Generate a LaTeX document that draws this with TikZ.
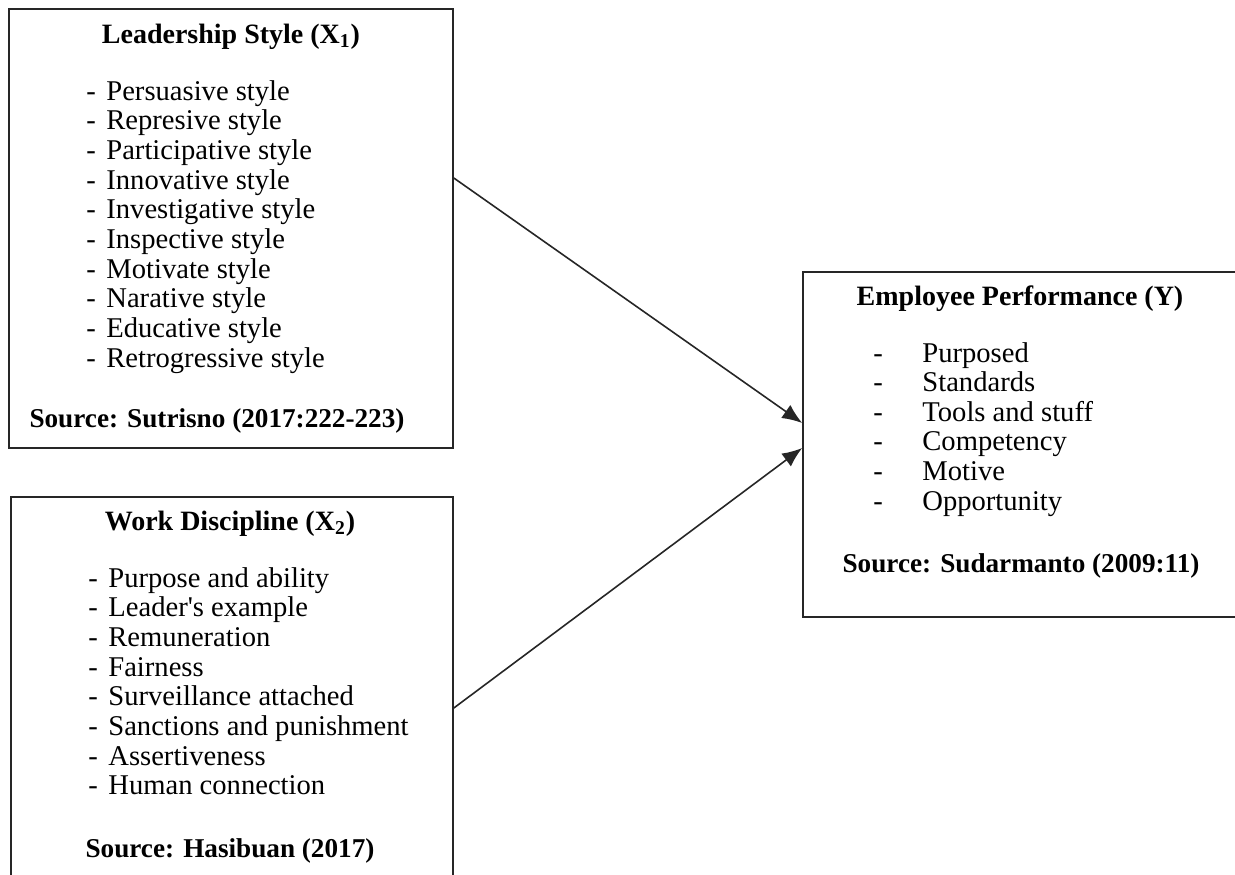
\documentclass[tikz,border=0pt]{standalone}
\usepackage{fontspec}
\setmainfont{Liberation Serif}
\usetikzlibrary{arrows.meta}
\begin{document}
\begin{tikzpicture}[x=0.5pt,y=-0.5pt,
  box/.style={draw=black!85, line width=0.8pt, rectangle, inner sep=0pt},
  ttl/.style={anchor=base, inner sep=0pt, font=\fontsize{14}{15}\selectfont\bfseries},
  src/.style={anchor=base, inner sep=0pt, font=\fontsize{13.6}{15}\selectfont\bfseries},
  item/.style={anchor=base west, inner sep=0pt, font=\fontsize{14.3}{15}\selectfont},
  arr/.style={line width=0.8pt, draw=black!85, -{Latex[length=10pt,width=8pt]}}]
\useasboundingbox (0,0) rectangle (1235,874);
\clip (0,0) rectangle (1235,874);
% boxes
\node[box, minimum width=222pt, minimum height=219.5pt] (x1) at (231,228.5) {};
\node[box, minimum width=221pt, minimum height=196.5pt] (x2) at (232,693.5) {};
\node[box, minimum width=218.5pt, minimum height=172.5pt] (y) at (1021.5,444.5) {};
% box 1
\node[ttl] (t1) at (231,43) {Leadership Style (X\textsubscript{1})};
\foreach \t [count=\i] in {Persuasive style, Represive style, Participative style, Innovative style, Investigative style, Inspective style, Motivate style, Narative style, Educative style, Retrogressive style}
  \node[item] (a\i) at (86,{100+29.7*(\i-1)}) {\makebox[10pt][l]{-}\t};
\node[src] (s1) at (217,427) {Source: Sutrisno (2017:222-223)};
% box 2
\node[ttl] (t2) at (230,530) {Work Discipline (X\textsubscript{2})};
\foreach \t [count=\i] in {Purpose and ability, Leader\textquotesingle s example, Remuneration, Fairness, Surveillance attached, Sanctions and punishment, Assertiveness, Human connection}
  \node[item] (b\i) at (88,{587+29.7*(\i-1)}) {\makebox[10pt][l]{-}\t};
\node[src] (s2) at (230,857) {Source: Hasibuan (2017)};
% box 3
\node[ttl] (t3) at (1020,305) {Employee Performance (Y)};
\foreach \t [count=\i] in {Purposed, Standards, Tools and stuff, Competency, Motive, Opportunity}
  \node[item] (c\i) at (873,{362+29.6*(\i-1)}) {\makebox[24.5pt][l]{-}\t};
\node[src] (s3) at (1021,572) {Source: Sudarmanto (2009:11)};
% connectors
\coordinate (o1) at (x1.east |- 0,178);
\coordinate (o2) at (x2.east |- 0,708);
\coordinate (i1) at (y.west |- 0,423);
\coordinate (i2) at (y.west |- 0,448);
\draw[arr] (o1) -- (i1);
\draw[arr] (o2) -- (i2);
\end{tikzpicture}
\end{document}
